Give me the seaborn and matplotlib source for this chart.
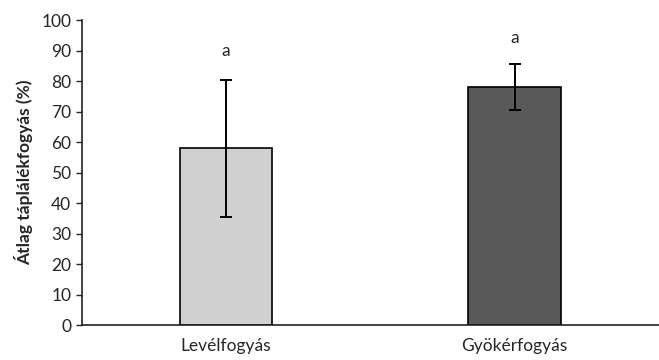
import matplotlib
matplotlib.use("Agg")
import matplotlib.pyplot as plt
import seaborn as sns
import pandas as pd

# data
categories = ["Levélfogyás", "Gyökérfogyás"]
means = [58, 78]
errors = [22.5, 7.5]
letters = ["a", "a"]
letter_pos = [90, 94]
bar_colors = ["#d0d0d0", "#595959"]

df = pd.DataFrame({"cat": categories, "val": means})

sns.set_style("white")
plt.rcParams["font.family"] = ["Lato", "DejaVu Sans"]
txt = "#262626"

fig = plt.figure(figsize=(6.59, 3.60), dpi=100)
ax = fig.add_axes([0.124, 0.097, 0.876, 0.847])

sns.barplot(data=df, x="cat", y="val", hue="cat", palette=bar_colors,
            legend=False, width=0.32, edgecolor="black", linewidth=1.2,
            ax=ax)
ax.errorbar(range(len(categories)), means, yerr=errors, fmt="none",
            ecolor="black", elinewidth=1.4, capsize=4, capthick=1.4)

# significance letters above the bars
for i, (t, y) in enumerate(zip(letters, letter_pos)):
    ax.text(i, y, t, ha="center", va="center", fontsize=12.5, color=txt)

ax.set_ylim(0, 100)
ax.set_yticks(range(0, 101, 10))
ax.set_xlim(-0.5, 1.5)
ax.set_xlabel("")
ax.set_ylabel("Átlag táplálékfogyás (%)", fontsize=12.5, fontweight="bold",
              color=txt, labelpad=6)
ax.tick_params(axis="y", which="both", left=True, direction="out",
               length=4, width=1, labelsize=12.5, labelcolor=txt)
ax.tick_params(axis="x", bottom=False, labelsize=12.5, labelcolor=txt, pad=6)

sns.despine(ax=ax, top=True, right=True)
for s in ["left", "bottom"]:
    ax.spines[s].set_color("#222222")
    ax.spines[s].set_linewidth(1.2)

fig.savefig("out.png", dpi=100)
plt.close(fig)
